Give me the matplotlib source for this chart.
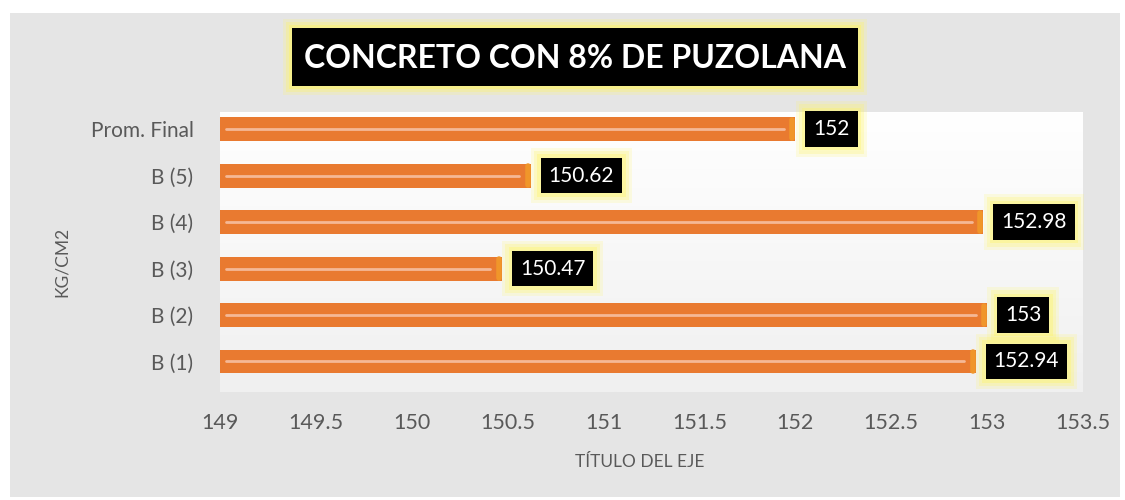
import matplotlib
matplotlib.use("Agg")
import matplotlib.pyplot as plt
import numpy as np
from matplotlib.patches import Rectangle

categories = ["B (1)", "B (2)", "B (3)", "B (4)", "B (5)", "Prom. Final"]
values = [152.94, 153, 150.47, 152.98, 150.62, 152]
labels = ["152.94", "153", "150.47", "152.98", "150.62", "152"]
xticks = [149, 149.5, 150, 150.5, 151, 151.5, 152, 152.5, 153, 153.5]
xticklabels = ["149", "149.5", "150", "150.5", "151", "151.5", "152", "152.5", "153", "153.5"]

plt.rcParams['font.family'] = ['Lato', 'DejaVu Sans']
W, H = 1125, 500

fig = plt.figure(figsize=(11.25, 5.0), dpi=100)
fig.patch.set_facecolor("white")
fig.patches.append(Rectangle((10/W, 3/H), 1110/W, 484/H, transform=fig.transFigure,
                             facecolor="#e5e5e5", edgecolor="none", zorder=-10))

ax = fig.add_axes([220/W, 1 - 392/H, (1083 - 220)/W, (392 - 112)/H])
ax.set_xlim(149, 153.5)
ylo, yhi = -0.656, 5.366
ax.set_ylim(ylo, yhi)

grad = np.linspace(0, 1, 100).reshape(-1, 1)
ax.imshow(grad, extent=[149, 153.5, ylo, yhi], aspect="auto",
          cmap=matplotlib.colors.LinearSegmentedColormap.from_list("g", ["#f0f0f0", "#ffffff"]),
          origin="lower", zorder=0)

y = np.arange(len(categories))
ax.barh(y, [v - 149 for v in values], left=149, height=0.516, color="#E97A30", zorder=2)
for yi, v in zip(y, values):
    ax.plot([149.03, v - 0.06], [yi, yi], color="#F5B896", lw=2, zorder=3, solid_capstyle="round")
    ax.plot([v - 0.015, v - 0.015], [yi - 0.2, yi + 0.2], color="#F0962A", lw=4,
            zorder=3, solid_capstyle="round")

for yi, v, lab in zip(y, values, labels):
    for pad, a in [(0.85, 0.18), (0.7, 0.25), (0.55, 0.35)]:
        ax.annotate(lab, (v, yi), xytext=(13, 0), textcoords="offset points",
                    ha="left", va="center", fontsize=15, color="none", zorder=4,
                    bbox=dict(boxstyle=f"square,pad={pad}", facecolor=(1.0, 0.96, 0.4, a),
                              edgecolor="none"))
    ax.annotate(lab, (v, yi), xytext=(13, 0), textcoords="offset points",
                ha="left", va="center", fontsize=15, color="white", zorder=5,
                bbox=dict(boxstyle="square,pad=0.38", facecolor="black", edgecolor="none"))

ax.set_yticks(y)
ax.set_yticklabels(categories, fontsize=15, color="#595959")
ax.set_xticks(xticks)
ax.set_xticklabels(xticklabels, fontsize=15.5, color="#595959")
ax.tick_params(axis="both", length=0)
ax.tick_params(axis="x", pad=15)
ax.tick_params(axis="y", pad=19)
for s in ax.spines.values():
    s.set_visible(False)

fig.text(640/W, 1 - 462/H, "TÍTULO DEL EJE", ha="center", va="center", fontsize=12.5, color="#595959")
fig.text(62/W, 1 - 262/H, "KG/CM2", ha="center", va="center", rotation=90, fontsize=12.5, color="#595959")

# title box with glow
x0, x1, y0, y1 = 292, 858, 28, 86
for g, a in [(9, 0.2), (6, 0.3), (3, 0.45)]:
    fig.patches.append(Rectangle(((x0 - g)/W, 1 - (y1 + g)/H), (x1 - x0 + 2*g)/W, (y1 - y0 + 2*g)/H,
                                 transform=fig.transFigure, facecolor=(1.0, 0.96, 0.4, a),
                                 edgecolor="none", zorder=1))
fig.patches.append(Rectangle((x0/W, 1 - y1/H), (x1 - x0)/W, (y1 - y0)/H, transform=fig.transFigure,
                             facecolor="black", edgecolor="none", zorder=2))
fig.text(575/W, 1 - 58/H, "CONCRETO CON 8% DE PUZOLANA", ha="center", va="center",
         fontsize=23, fontweight="bold", color="white", zorder=3)

fig.savefig("out.png", dpi=100, facecolor=fig.get_facecolor())
